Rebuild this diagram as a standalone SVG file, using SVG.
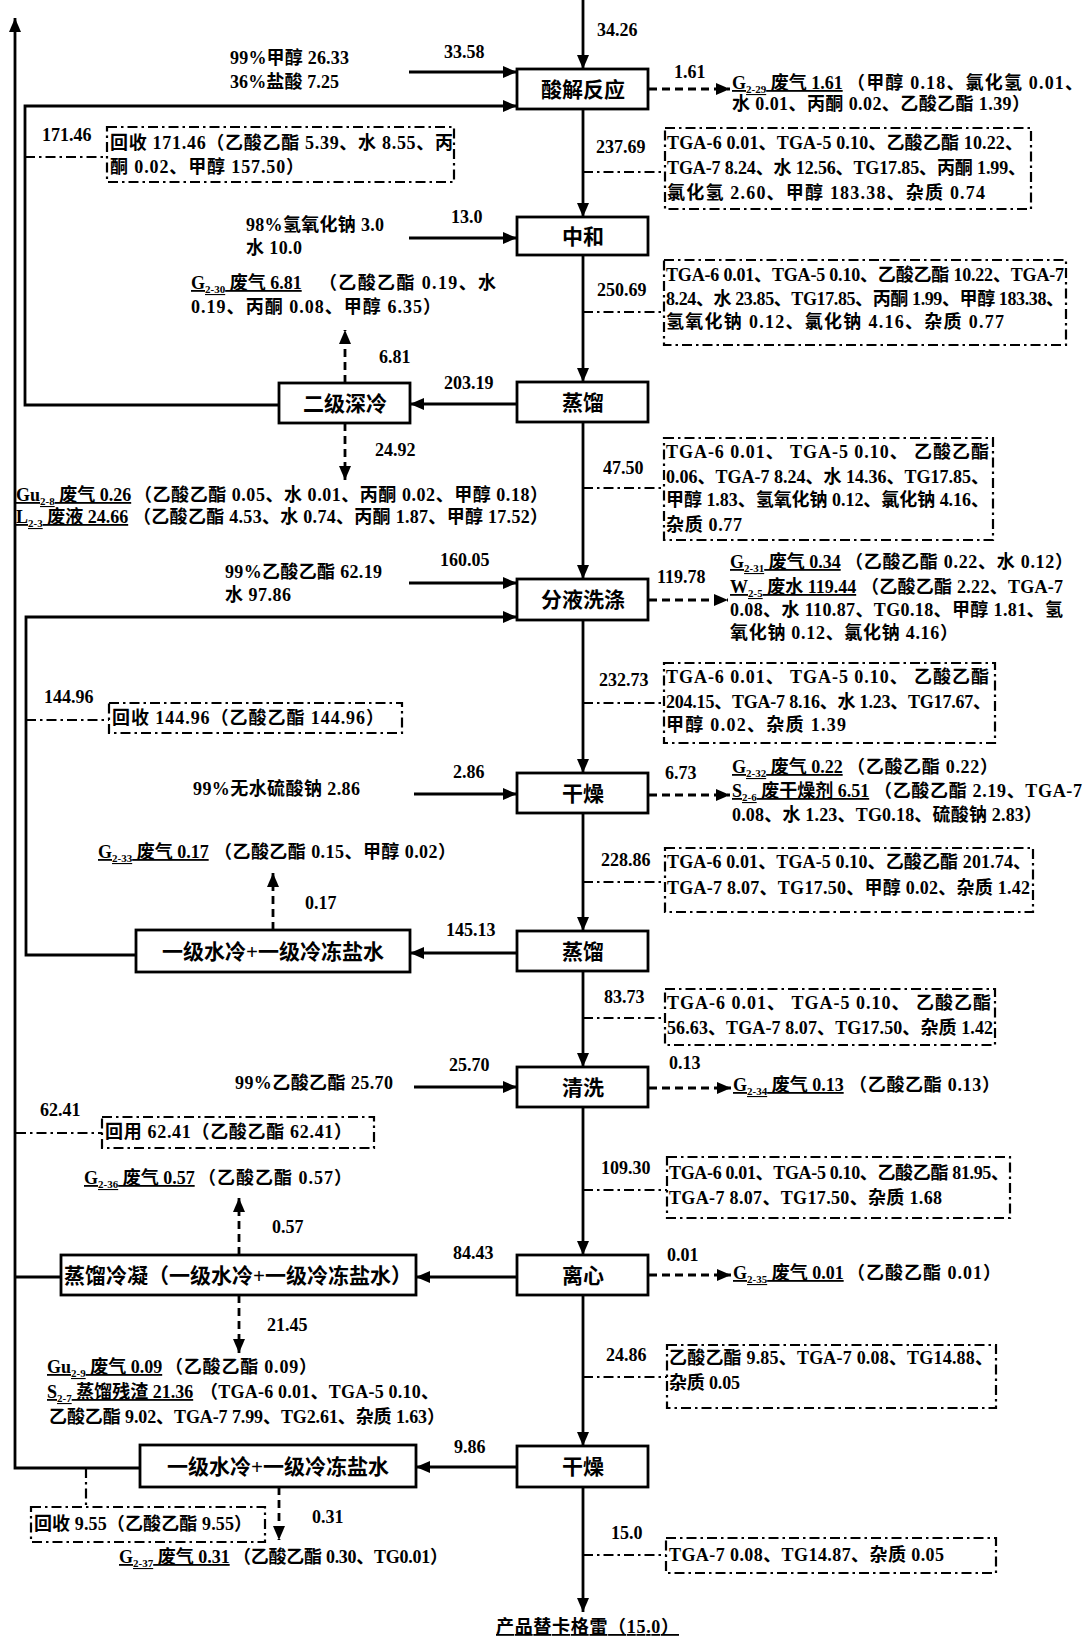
<svg xmlns="http://www.w3.org/2000/svg" width="1086" height="1639" viewBox="0 0 1086 1639">
<style>
text{font-family:"Liberation Serif","Noto Sans CJK SC",serif;font-size:18px;font-weight:bold;fill:#000}
.bt{font-size:21px;text-anchor:middle}
.box{fill:#fff;stroke:#000;stroke-width:2.8}
.s{stroke:#000;stroke-width:2.8;fill:none}
.d{stroke:#000;stroke-width:2.8;fill:none;stroke-dasharray:8 5}
.dd{stroke:#000;stroke-width:2.2;fill:none;stroke-dasharray:10 4 2.5 4}
.sub{font-size:11px}
.u{text-decoration:underline}
</style>
<defs>
<marker id="ah" viewBox="0 0 14 12" refX="14" refY="6" markerWidth="14" markerHeight="12" markerUnits="userSpaceOnUse" orient="auto"><path d="M0,0 L14,6 L0,12 z" fill="#000"/></marker>
</defs>
<rect width="1086" height="1639" fill="#fff"/>

<g id="connectors">
<path class="s" d="M583,0 V69" marker-end="url(#ah)"/>
<path class="s" d="M583,109 V217" marker-end="url(#ah)"/>
<path class="s" d="M583,255 V382" marker-end="url(#ah)"/>
<path class="s" d="M583,422 V579" marker-end="url(#ah)"/>
<path class="s" d="M583,620 V773" marker-end="url(#ah)"/>
<path class="s" d="M583,813 V931" marker-end="url(#ah)"/>
<path class="s" d="M583,971 V1067" marker-end="url(#ah)"/>
<path class="s" d="M583,1107 V1255" marker-end="url(#ah)"/>
<path class="s" d="M583,1295 V1446" marker-end="url(#ah)"/>
<path class="s" d="M583,1487 V1612" marker-end="url(#ah)"/>
<path class="s" d="M409,72 H517" marker-end="url(#ah)"/>
<path class="s" d="M409,238 H517" marker-end="url(#ah)"/>
<path class="s" d="M409,583 H517" marker-end="url(#ah)"/>
<path class="s" d="M414,794 H517" marker-end="url(#ah)"/>
<path class="s" d="M414,1087 H517" marker-end="url(#ah)"/>
<path class="s" d="M517,404 H410" marker-end="url(#ah)"/>
<path class="s" d="M517,953 H410" marker-end="url(#ah)"/>
<path class="s" d="M517,1277 H416" marker-end="url(#ah)"/>
<path class="s" d="M517,1467 H416" marker-end="url(#ah)"/>
<path class="s" d="M279,405 H25 V106 H517" marker-end="url(#ah)"/>
<path class="s" d="M136,955 H26 V617 H517" marker-end="url(#ah)"/>
<path class="s" d="M61,1277 H16"/>
<path class="s" d="M140,1468 H15 V18" marker-end="url(#ah)"/>
<path class="d" d="M649,89 H730" marker-end="url(#ah)"/>
<path class="d" d="M649,600 H728" marker-end="url(#ah)"/>
<path class="d" d="M649,795 H730" marker-end="url(#ah)"/>
<path class="d" d="M649,1088 H731" marker-end="url(#ah)"/>
<path class="d" d="M649,1275 H731" marker-end="url(#ah)"/>
<path class="d" d="M345,383 V330" marker-end="url(#ah)"/>
<path class="d" d="M345,423 V480" marker-end="url(#ah)"/>
<path class="d" d="M273,930 V873" marker-end="url(#ah)"/>
<path class="d" d="M239,1255 V1198" marker-end="url(#ah)"/>
<path class="d" d="M239,1295 V1353" marker-end="url(#ah)"/>
<path class="d" d="M279,1487 V1540" marker-end="url(#ah)"/>
<path class="dd" d="M583,172 H665"/>
<path class="dd" d="M583,312 H664"/>
<path class="dd" d="M583,488 H664"/>
<path class="dd" d="M583,703 H664"/>
<path class="dd" d="M583,882 H665"/>
<path class="dd" d="M583,1018 H665"/>
<path class="dd" d="M583,1190 H667"/>
<path class="dd" d="M583,1377 H667"/>
<path class="dd" d="M583,1555 H666"/>
<path class="dd" d="M25,157 H107"/>
<path class="dd" d="M26,720 H109"/>
<path class="dd" d="M16,1133 H102"/>
<path class="dd" d="M86,1468 V1507"/>
<text x="597" y="36">34.26</text>
<text x="444" y="58">33.58</text>
<text x="674" y="78">1.61</text>
<text x="42" y="141">171.46</text>
<text x="596" y="153">237.69</text>
<text x="451" y="223">13.0</text>
<text x="597" y="296">250.69</text>
<text x="379" y="363">6.81</text>
<text x="444" y="389">203.19</text>
<text x="375" y="456">24.92</text>
<text x="603" y="474">47.50</text>
<text x="440" y="566">160.05</text>
<text x="657" y="583">119.78</text>
<text x="599" y="686">232.73</text>
<text x="44" y="703">144.96</text>
<text x="453" y="778">2.86</text>
<text x="665" y="779">6.73</text>
<text x="601" y="866">228.86</text>
<text x="305" y="909">0.17</text>
<text x="446" y="936">145.13</text>
<text x="604" y="1003">83.73</text>
<text x="669" y="1069">0.13</text>
<text x="449" y="1071">25.70</text>
<text x="40" y="1116">62.41</text>
<text x="601" y="1174">109.30</text>
<text x="272" y="1233">0.57</text>
<text x="453" y="1259">84.43</text>
<text x="667" y="1261">0.01</text>
<text x="267" y="1331">21.45</text>
<text x="606" y="1361">24.86</text>
<text x="454" y="1453">9.86</text>
<text x="312" y="1523">0.31</text>
<text x="611" y="1539">15.0</text>
</g>

<g id="n-acidolysis"><rect class="box" x="517" y="69" width="131" height="40"/><text class="bt" x="583" y="97">酸解反应</text></g>
<g id="n-neutralize"><rect class="box" x="517" y="217" width="131" height="38"/><text class="bt" x="583" y="244">中和</text></g>
<g id="n-distill1"><rect class="box" x="517" y="382" width="131" height="40"/><text class="bt" x="583" y="410">蒸馏</text></g>
<g id="n-deepcool"><rect class="box" x="279" y="383" width="131" height="40"/><text class="bt" x="345" y="411">二级深冷</text></g>
<g id="n-wash"><rect class="box" x="517" y="579" width="131" height="41"/><text class="bt" x="583" y="607">分液洗涤</text></g>
<g id="n-dry1"><rect class="box" x="517" y="773" width="131" height="40"/><text class="bt" x="583" y="801">干燥</text></g>
<g id="n-distill2"><rect class="box" x="517" y="931" width="131" height="40"/><text class="bt" x="583" y="959">蒸馏</text></g>
<g id="n-cool1"><rect class="box" x="136" y="930" width="274" height="42"/><text class="bt" x="273" y="959">一级水冷+一级冷冻盐水</text></g>
<g id="n-rinse"><rect class="box" x="517" y="1067" width="131" height="40"/><text class="bt" x="583" y="1095">清洗</text></g>
<g id="n-centrifuge"><rect class="box" x="517" y="1255" width="131" height="40"/><text class="bt" x="583" y="1283">离心</text></g>
<g id="n-condense"><rect class="box" x="61" y="1255" width="355" height="40"/><text class="bt" x="238" y="1283">蒸馏冷凝（一级水冷+一级冷冻盐水）</text></g>
<g id="n-dry2"><rect class="box" x="517" y="1446" width="131" height="41"/><text class="bt" x="583" y="1474">干燥</text></g>
<g id="n-cool2"><rect class="box" x="140" y="1445" width="276" height="42"/><text class="bt" x="278" y="1474">一级水冷+一级冷冻盐水</text></g>

<g id="feed-1"><text x="230" y="64" textLength="119">99%甲醇 26.33</text><text x="230" y="88" textLength="109">36%盐酸 7.25</text></g>
<g id="feed-2"><text x="246" y="231" textLength="138">98%氢氧化钠 3.0</text><text x="246" y="254" textLength="56">水 10.0</text></g>
<g id="feed-3"><text x="225" y="578" textLength="157">99%乙酸乙酯 62.19</text><text x="225" y="601" textLength="66">水 97.86</text></g>
<g id="feed-4"><text x="193" y="795" textLength="167">99%无水硫酸钠 2.86</text></g>
<g id="feed-5"><text x="235" y="1089" textLength="158">99%乙酸乙酯 25.70</text></g>

<g id="e-g229"><text x="732" y="89" class="u">G<tspan class="sub" dy="4">2-29</tspan><tspan dy="-4"> 废气 1.61</tspan></text><text x="847" y="89" textLength="236">（甲醇 0.18、氯化氢 0.01、</text><text x="732" y="110" textLength="298">水 0.01、丙酮 0.02、乙酸乙酯 1.39）</text></g>
<g id="e-g230"><text x="191" y="289" class="u">G<tspan class="sub" dy="4">2-30</tspan><tspan dy="-4"> 废气 6.81</tspan></text><text x="319" y="289" textLength="177">（乙酸乙酯 0.19、水</text><text x="191" y="313" textLength="250">0.19、丙酮 0.08、甲醇 6.35）</text></g>
<g id="e-gu28"><text x="16" y="501" class="u">Gu<tspan class="sub" dy="4">2-8</tspan><tspan dy="-4"> 废气 0.26</tspan></text><text x="134" y="501" textLength="414">（乙酸乙酯 0.05、水 0.01、丙酮 0.02、甲醇 0.18）</text><text x="16" y="523" class="u">L<tspan class="sub" dy="4">2-3</tspan><tspan dy="-4"> 废液 24.66</tspan></text><text x="133" y="523" textLength="415">（乙酸乙酯 4.53、水 0.74、丙酮 1.87、甲醇 17.52）</text></g>
<g id="e-g231"><text x="730" y="568" class="u">G<tspan class="sub" dy="4">2-31</tspan><tspan dy="-4"> 废气 0.34</tspan></text><text x="845" y="568" textLength="228">（乙酸乙酯 0.22、水 0.12）</text><text x="730" y="593" class="u">W<tspan class="sub" dy="4">2-5</tspan><tspan dy="-4"> 废水 119.44</tspan></text><text x="861" y="593" textLength="202">（乙酸乙酯 2.22、TGA-7</text><text x="730" y="616" textLength="333">0.08、水 110.87、TG0.18、甲醇 1.81、氢</text><text x="730" y="639" textLength="228">氧化钠 0.12、氯化钠 4.16）</text></g>
<g id="e-g232"><text x="732" y="773" class="u">G<tspan class="sub" dy="4">2-32</tspan><tspan dy="-4"> 废气 0.22</tspan></text><text x="847" y="773" textLength="151">（乙酸乙酯 0.22）</text><text x="732" y="797" class="u">S<tspan class="sub" dy="4">2-6</tspan><tspan dy="-4"> 废干燥剂 6.51</tspan></text><text x="874" y="797" textLength="208">（乙酸乙酯 2.19、TGA-7</text><text x="732" y="821" textLength="310">0.08、水 1.23、TG0.18、硫酸钠 2.83）</text></g>
<g id="e-g233"><text x="98" y="858" class="u">G<tspan class="sub" dy="4">2-33</tspan><tspan dy="-4"> 废气 0.17</tspan></text><text x="214" y="858" textLength="242">（乙酸乙酯 0.15、甲醇 0.02）</text></g>
<g id="e-g234"><text x="733" y="1091" class="u">G<tspan class="sub" dy="4">2-34</tspan><tspan dy="-4"> 废气 0.13</tspan></text><text x="849" y="1091" textLength="151">（乙酸乙酯 0.13）</text></g>
<g id="e-g236"><text x="84" y="1184" class="u">G<tspan class="sub" dy="4">2-36</tspan><tspan dy="-4"> 废气 0.57</tspan></text><text x="198" y="1184" textLength="154">（乙酸乙酯 0.57）</text></g>
<g id="e-g235"><text x="733" y="1279" class="u">G<tspan class="sub" dy="4">2-35</tspan><tspan dy="-4"> 废气 0.01</tspan></text><text x="847" y="1279" textLength="154">（乙酸乙酯 0.01）</text></g>
<g id="e-gu29"><text x="47" y="1373" class="u">Gu<tspan class="sub" dy="4">2-9</tspan><tspan dy="-4"> 废气 0.09</tspan></text><text x="165" y="1373" textLength="152">（乙酸乙酯 0.09）</text><text x="47" y="1398" class="u">S<tspan class="sub" dy="4">2-7</tspan><tspan dy="-4"> 蒸馏残渣 21.36</tspan></text><text x="200" y="1398" textLength="239">（TGA-6 0.01、TGA-5 0.10、</text><text x="49" y="1423" textLength="396">乙酸乙酯 9.02、TGA-7 7.99、TG2.61、杂质 1.63）</text></g>
<g id="e-g237"><text x="119" y="1563" class="u">G<tspan class="sub" dy="4">2-37</tspan><tspan dy="-4"> 废气 0.31</tspan></text><text x="233" y="1563" textLength="215">（乙酸乙酯 0.30、TG0.01）</text></g>
<g id="product"><text x="496" y="1633" class="u" textLength="183">产品替卡格雷（15.0）</text></g>

<g id="r-17146"><rect class="dd" x="107" y="127" width="347" height="55"/><text x="110" y="149" textLength="343">回收 171.46（乙酸乙酯 5.39、水 8.55、丙</text><text x="110" y="173" textLength="194">酮 0.02、甲醇 157.50）</text></g>
<g id="r-14496"><rect class="dd" x="109" y="703" width="293" height="30"/><text x="112" y="724" textLength="272">回收 144.96（乙酸乙酯 144.96）</text></g>
<g id="r-6241"><rect class="dd" x="102" y="1117" width="272" height="31"/><text x="105" y="1138" textLength="247">回用 62.41（乙酸乙酯 62.41）</text></g>
<g id="r-955"><rect class="dd" x="31" y="1507" width="234" height="35"/><text x="34" y="1530" textLength="218">回收 9.55（乙酸乙酯 9.55）</text></g>

<g id="c-23769"><rect class="dd" x="665" y="128" width="366" height="81"/><text x="667" y="149" textLength="356">TGA-6 0.01、TGA-5 0.10、乙酸乙酯 10.22、</text><text x="667" y="174" textLength="359">TGA-7 8.24、水 12.56、TG17.85、丙酮 1.99、</text><text x="667" y="199" textLength="318">氯化氢 2.60、甲醇 183.38、杂质 0.74</text></g>
<g id="c-25069"><rect class="dd" x="664" y="260" width="402" height="85"/><text x="666" y="281" textLength="398">TGA-6 0.01、TGA-5 0.10、乙酸乙酯 10.22、TGA-7</text><text x="666" y="305" textLength="398">8.24、水 23.85、TG17.85、丙酮 1.99、甲醇 183.38、</text><text x="666" y="328" textLength="338">氢氧化钠 0.12、氯化钠 4.16、杂质 0.77</text></g>
<g id="c-4750"><rect class="dd" x="664" y="438" width="329" height="102"/><text x="666" y="458" textLength="323">TGA-6  0.01、 TGA-5  0.10、 乙酸乙酯</text><text x="666" y="483" textLength="323">0.06、TGA-7 8.24、水 14.36、TG17.85、</text><text x="666" y="506" textLength="323">甲醇 1.83、氢氧化钠 0.12、氯化钠 4.16、</text><text x="666" y="531" textLength="76">杂质 0.77</text></g>
<g id="c-23273"><rect class="dd" x="664" y="663" width="331" height="80"/><text x="666" y="683" textLength="323">TGA-6  0.01、 TGA-5  0.10、 乙酸乙酯</text><text x="666" y="708" textLength="325">204.15、TGA-7 8.16、水 1.23、TG17.67、</text><text x="666" y="731" textLength="180">甲醇 0.02、杂质 1.39</text></g>
<g id="c-22886"><rect class="dd" x="665" y="848" width="368" height="64"/><text x="667" y="868" textLength="364">TGA-6 0.01、TGA-5 0.10、乙酸乙酯 201.74、</text><text x="667" y="894" textLength="363">TGA-7 8.07、TG17.50、甲醇 0.02、杂质 1.42</text></g>
<g id="c-8373"><rect class="dd" x="665" y="989" width="330" height="56"/><text x="667" y="1009" textLength="324">TGA-6  0.01、 TGA-5  0.10、 乙酸乙酯</text><text x="667" y="1034" textLength="326">56.63、TGA-7 8.07、TG17.50、杂质 1.42</text></g>
<g id="c-10930"><rect class="dd" x="667" y="1157" width="343" height="61"/><text x="669" y="1179" textLength="340">TGA-6 0.01、TGA-5 0.10、乙酸乙酯 81.95、</text><text x="669" y="1204" textLength="273">TGA-7 8.07、TG17.50、杂质 1.68</text></g>
<g id="c-2486"><rect class="dd" x="667" y="1345" width="329" height="63"/><text x="669" y="1364" textLength="324">乙酸乙酯 9.85、TGA-7 0.08、TG14.88、</text><text x="669" y="1389" textLength="71">杂质 0.05</text></g>
<g id="c-150"><rect class="dd" x="666" y="1538" width="330" height="35"/><text x="669" y="1561" textLength="275">TGA-7 0.08、TG14.87、杂质 0.05</text></g>
</svg>
